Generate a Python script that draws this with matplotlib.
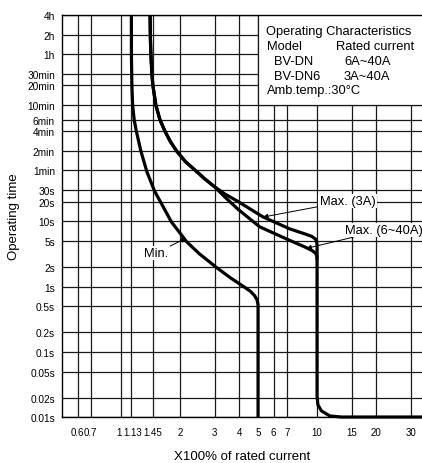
import matplotlib
matplotlib.use("Agg")
import matplotlib.pyplot as plt
from matplotlib.patches import Rectangle
from matplotlib.transforms import ScaledTranslation

plt.rcParams['font.family'] = ['Liberation Sans', 'DejaVu Sans']

# ---- data ----
x_ticks = [0.6, 0.7, 1, 1.13, 1.45, 2, 3, 4, 5, 6, 7, 10, 15, 20, 30]
x_ticklabels = ['0.6', '0.7', '1', '1.13', '1.45', '2', '3', '4', '5', '6', '7', '10', '15', '20', '30']
y_ticks = [0.01, 0.02, 0.05, 0.1, 0.2, 0.5, 1, 2, 5, 10, 20, 30, 60, 120, 240, 360,
           600, 1200, 1800, 3600, 7200, 14400]
y_ticklabels = ['0.01s', '0.02s', '0.05s', '0.1s', '0.2s', '0.5s', '1s', '2s', '5s', '10s',
                '20s', '30s', '1min', '2min', '4min', '6min', '10min', '20min', '30min',
                '1h', '2h', '4h']

min_x = [1.129, 1.130, 1.136, 1.146, 1.167, 1.197, 1.262, 1.355, 1.48, 1.63, 1.807, 1.987,
         2.157, 2.514, 3.06, 3.621, 4.27, 4.581, 4.803, 4.946, 5.0, 5.0, 5.0]
min_t = [14400, 3600, 1200, 600, 360, 240, 120, 57.4, 29.4, 17.3, 9.8, 6.78,
         4.9, 3.17, 1.98, 1.36, 0.98, 0.844, 0.728, 0.625, 0.524, 0.424, 0.0101]

max_common_x = [1.407, 1.412, 1.42, 1.437, 1.454, 1.506, 1.579, 1.675, 1.786, 1.918,
                2.132, 2.398, 2.667, 3.0]
max_common_t = [14400, 6300, 3600, 1800, 1200, 600, 360, 240, 166, 120,
                81.8, 60, 44.9, 33.8]

max3_x = [3.374, 3.932, 5.295, 7.251, 8.651, 9.396, 9.849, 10.0]
max3_t = [26.4, 20.3, 11.7, 7.67, 6.43, 5.89, 5.30, 4.52]

max6_x = [3.374, 3.932, 5.095, 7.251, 8.651, 9.396, 9.79, 9.965, 10.0]
max6_t = [23.8, 15.5, 8.24, 5.11, 4.06, 3.59, 3.29, 2.96, 2.57]

tail_x = [10.0, 10.0, 10.1, 10.53, 11.6, 13.3, 40]
tail_t = [4.52, 0.0213, 0.0155, 0.01254, 0.0105, 0.0101, 0.0101]

# ---- figure ----
W, H = 422, 464
fig = plt.figure(figsize=(W / 100, H / 100), dpi=100)
ax = fig.add_axes([62 / W, (H - 418.3) / H, 360 / W, (418.3 - 16) / H])
ax.set_xscale('log')
ax.set_yscale('log')
ax.set_xlim(0.5, 34.3)
ax.set_ylim(0.01, 14400)

ax.set_xticks(x_ticks)
ax.set_xticklabels(x_ticklabels, fontsize=7)
ax.set_yticks(y_ticks)
ax.set_yticklabels(y_ticklabels, fontsize=7.3)
ax.minorticks_off()
ax.tick_params(axis='both', length=0)
ax.tick_params(axis='y', pad=5)
ax.tick_params(axis='x', pad=7)

labs = ax.get_xticklabels()
labs[2].set_transform(labs[2].get_transform() + ScaledTranslation(-0.025, 0, fig.dpi_scale_trans))
labs[3].set_transform(labs[3].get_transform() + ScaledTranslation(0.012, 0, fig.dpi_scale_trans))

gc = '#1a1a1a'
for xv in x_ticks:
    ax.axvline(xv, color=gc, lw=0.9, zorder=1)
for yv in y_ticks:
    ax.axhline(yv, color=gc, lw=0.9, zorder=1)

for side in ['left', 'bottom', 'top']:
    ax.spines[side].set_linewidth(1.0)
ax.spines['right'].set_visible(False)

# info box
ax.add_patch(Rectangle((5, 600), 40, 20000, facecolor='white', edgecolor=gc, lw=0.9, zorder=2))

lw = 2.3
kw = dict(color='black', lw=lw, zorder=3, solid_joinstyle='round', solid_capstyle='butt')
ax.plot(min_x, min_t, clip_on=False, **kw)
ax.plot(max_common_x + max3_x, max_common_t + max3_t, **kw)
ax.plot(max_common_x + max6_x, max_common_t + max6_t, **kw)
ax.plot(tail_x, tail_t, clip_on=False, **kw)

arrow = dict(arrowstyle='-|>', lw=0.7, color='black', mutation_scale=7, shrinkA=0, shrinkB=0)
bb = dict(boxstyle='square,pad=0.1', fc='white', ec='none')
ax.annotate('Max. (3A)', xy=(5.30, 11.6), xytext=(10.3, 20.4), ha='left', va='center',
            fontsize=9.3, arrowprops=arrow, bbox=bb, zorder=4)
ax.annotate('Max. (6~40A)', xy=(8.83, 3.85), xytext=(13.86, 7.41), ha='left', va='center',
            fontsize=9.3, arrowprops=arrow, bbox=bb, zorder=4)
ax.annotate('Min.', xy=(2.15, 5.53), xytext=(1.315, 3.29), ha='left', va='center',
            fontsize=9.3, arrowprops=arrow, bbox=bb, zorder=4)

def ft(x, y, s, **kw):
    fig.text(x / W, 1 - y / H, s, va='center', fontsize=9.3, **kw)

ft(266.5, 31.7, 'Operating Characteristics')
ft(266.5, 46.7, 'Model')
ft(336.5, 46.7, 'Rated current')
ft(274, 61.7, 'BV-DN')
ft(344, 61.7, '6A~40A')
ft(274, 76.7, 'BV-DN6')
ft(344, 76.7, '3A~40A')
ft(266.5, 90.7, 'Amb.temp.:30°C')

fig.text(242 / W, 1 - 457 / H, 'X100% of rated current', ha='center', va='center', fontsize=9.5)
fig.text(14 / W, 1 - 217 / H, 'Operating time', ha='center', va='center', rotation=90, fontsize=9.5)

fig.savefig('out.png', dpi=100)
